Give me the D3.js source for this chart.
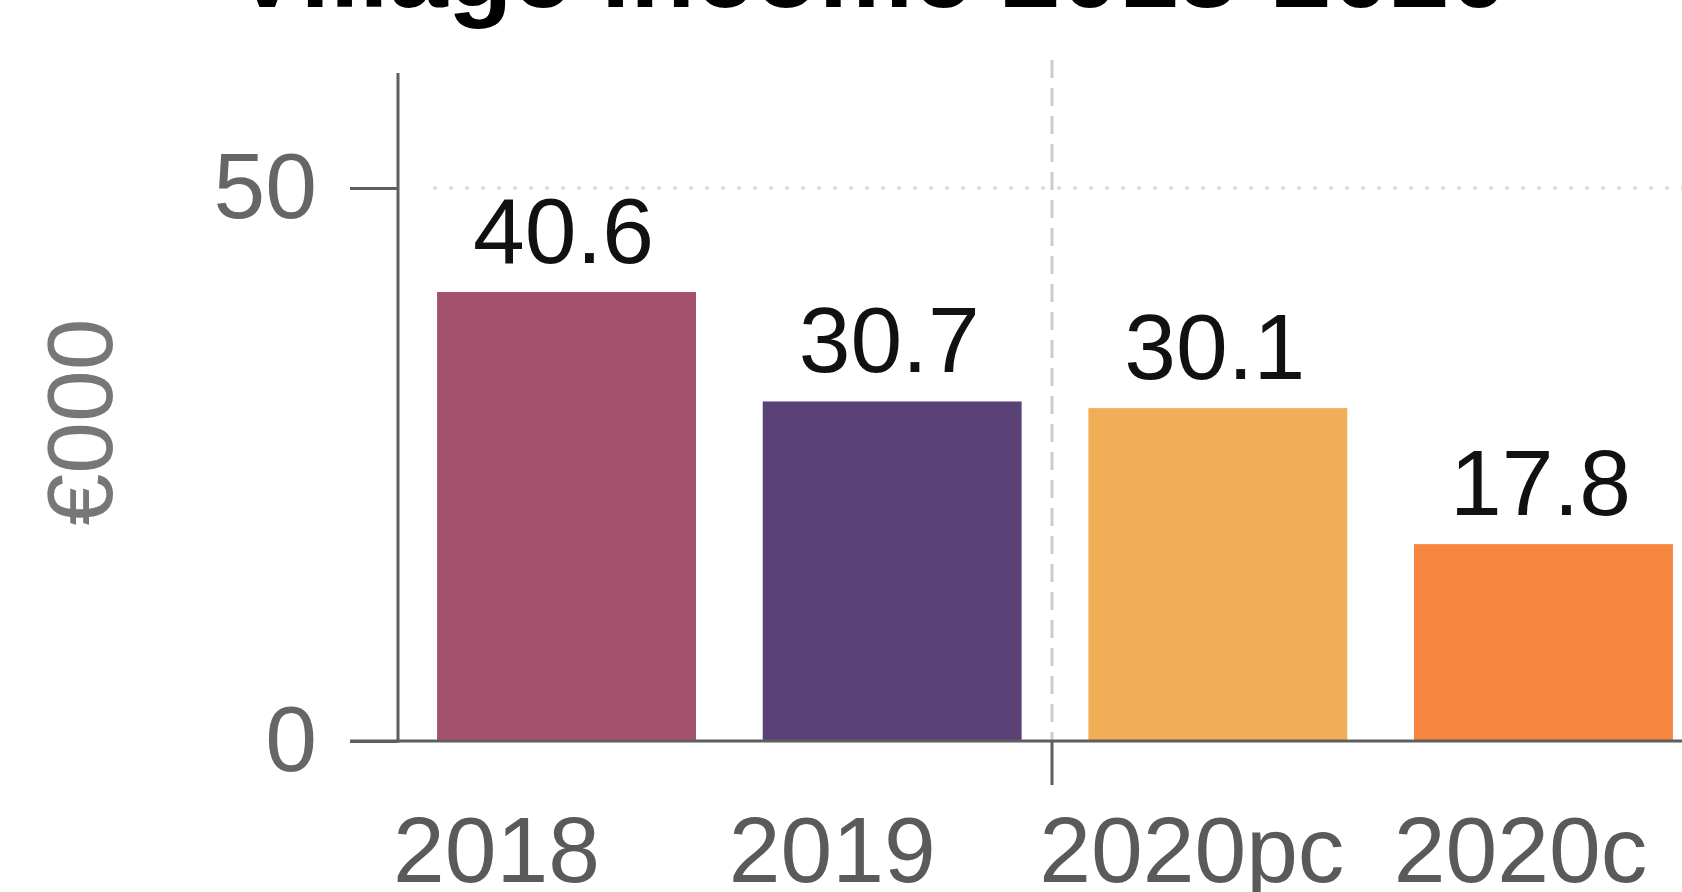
<!DOCTYPE html>
<html>
<head>
<meta charset="utf-8">
<script src="https://cdn.jsdelivr.net/npm/d3@7"></script>
<style>
  html, body { margin: 0; padding: 0; background: #fff; }
  svg { display: block; font-family: "Liberation Sans", Arial, sans-serif; }
</style>
</head>
<body>
<svg id="chart" width="1682" height="892"></svg>
<script>
// Village income by period, in thousands of euro
const categories = ["2018", "2019", "2020pc", "2020c"];
const values = [40.6, 30.7, 30.1, 17.8];
const yTicks = [0, 50];
const titleText = "Village income 2018-2020";
const yAxisTitle = "€000";

// bar palette
const palette = ["#a3516c", "#5b4276", "#f1ae57", "#f5853f"];
const axisGrey = "#5e5e5e";

// small horizontal nudges applied to the category labels
const labelNudge = [-70, -60, -26, -23];

const svg = d3.select("#chart");

const x = d3.scaleBand()
  .domain(categories)
  .range([398, 1712])
  .paddingInner(0.205)
  .paddingOuter(0.12);

const y = d3.scaleLinear()
  .domain([0, 60.4])
  .range([741, 73]);

const color = d3.scaleOrdinal().domain(categories).range(palette);

// dotted gridline at the upper tick
svg.append("line")
  .attr("x1", 433).attr("x2", 1682)
  .attr("y1", y(50)).attr("y2", y(50))
  .attr("stroke", "#d9d9d9")
  .attr("stroke-width", 3)
  .attr("stroke-dasharray", "4,12");

// dashed separator between the pre-2020 and 2020 periods
const sepX = x("2019") + x.bandwidth() + x.step() * x.paddingInner() / 2 - 3;
svg.append("line")
  .attr("x1", sepX).attr("x2", sepX)
  .attr("y1", 60).attr("y2", y(0))
  .attr("stroke", "#cccccc")
  .attr("stroke-width", 3)
  .attr("stroke-dasharray", "18,10");

// bars
svg.append("g")
  .selectAll("rect")
  .data(categories)
  .join("rect")
  .attr("x", d => x(d))
  .attr("width", x.bandwidth())
  .attr("y", (d, i) => y(values[i]))
  .attr("height", (d, i) => y(0) - y(values[i]))
  .attr("fill", d => color(d));

// value labels
svg.append("g")
  .selectAll("text")
  .data(categories)
  .join("text")
  .attr("x", d => x(d) + x.bandwidth() / 2 - 3)
  .attr("y", (d, i) => y(values[i]) - 29)
  .attr("text-anchor", "middle")
  .attr("font-size", 93)
  .attr("fill", "#111")
  .text((d, i) => values[i].toFixed(1));

// y axis
const yAxis = svg.append("g")
  .attr("transform", "translate(398,0)")
  .call(d3.axisLeft(y).tickValues(yTicks).tickSize(48).tickPadding(33).tickFormat(d3.format("d")));
yAxis.select(".domain").remove();
yAxis.selectAll(".tick line").attr("stroke", axisGrey).attr("stroke-width", 3);
yAxis.selectAll(".tick text")
  .attr("font-size", 93)
  .attr("font-family", "Liberation Sans, Arial, sans-serif")
  .attr("fill", "#666");

// y axis spine
svg.append("line")
  .attr("x1", 398).attr("x2", 398)
  .attr("y1", y.range()[1]).attr("y2", y(0) + 1.5)
  .attr("stroke", axisGrey)
  .attr("stroke-width", 3);

// x axis baseline
svg.append("line")
  .attr("x1", 350).attr("x2", 1682)
  .attr("y1", y(0)).attr("y2", y(0))
  .attr("stroke", axisGrey)
  .attr("stroke-width", 3);

// tick marking the period separator
svg.append("line")
  .attr("x1", sepX).attr("x2", sepX)
  .attr("y1", y(0)).attr("y2", y(0) + 44)
  .attr("stroke", axisGrey)
  .attr("stroke-width", 3);

// category labels
svg.append("g")
  .selectAll("text")
  .data(categories)
  .join("text")
  .attr("x", (d, i) => x(d) + x.bandwidth() / 2 + labelNudge[i])
  .attr("y", 882)
  .attr("text-anchor", "middle")
  .attr("font-size", 93)
  .attr("fill", "#5a5a5a")
  .text(d => d);

// y axis title
svg.append("text")
  .attr("transform", "translate(112,422) rotate(-90)")
  .attr("text-anchor", "middle")
  .attr("font-size", 93)
  .attr("fill", "#777")
  .text(yAxisTitle);

// chart title (runs off the top edge)
svg.append("text")
  .attr("x", 870)
  .attr("y", 7)
  .attr("text-anchor", "middle")
  .attr("font-size", 106)
  .attr("font-weight", "bold")
  .attr("fill", "#000")
  .text(titleText);
</script>
</body>
</html>
